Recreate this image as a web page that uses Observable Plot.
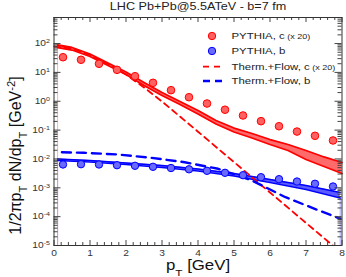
<!DOCTYPE html>
<html><head><meta charset="utf-8">
<script src="https://cdn.jsdelivr.net/npm/d3@7"></script>
<script src="https://cdn.jsdelivr.net/npm/@observablehq/plot@0.6"></script>
<style>
body{margin:0;background:#fff}
svg{font-family:"Liberation Sans",Arial,Helvetica,sans-serif}
</style>
</head><body><div id="chart"></div>
<script>
// ---- data ----
const pythiaX = [0.25,0.75,1.25,1.75,2.25,2.75,3.25,3.75,4.25,4.75,5.25,5.75,6.25,6.75,7.25,7.75];
const pythiaC = [33.6,27.4,19.9,12.3,7.38,4.36,2.42,1.38,0.835,0.509,0.321,0.204,0.136,0.089,0.0634,0.0437];
const pythiaB = [0.00643,0.00657,0.00643,0.00607,0.00579,0.00535,0.00485,0.00438,0.00388,0.00331,0.00273,0.00233,0.00199,0.00165,0.00138,0.00111];

const bandCX  = [0.1,0.5,1,1.5,2,2.5,3,3.5,4,4.5,5,5.5,6,6.5,7,7.5,8];
const bandCHi = [89.1,73.0,43.4,21.2,10.3,4.47,2.01,0.98,0.478,0.215,0.118,0.0762,0.0472,0.0317,0.0196,0.0117,0.00753];
const bandCLo = [73.0,59.7,35.6,17.3,8.45,3.52,1.58,0.771,0.361,0.163,0.0859,0.0532,0.0317,0.0196,0.00957,0.00547,0.00313];

const bandBX  = [0.1,1,2,3,4,5,6,7,7.95];
const bandBHi = [0.00995,0.00883,0.00724,0.00593,0.00449,0.00313,0.00194,0.00120,0.000687];
const bandBLo = [0.00883,0.00783,0.00643,0.00506,0.00382,0.00256,0.00153,0.000873,0.000443];

const thermCX = [0,0.5,1,1.5,2,2.5,3,4,5,6,7,8];
const thermC  = [79.1,67.3,40.1,19.5,8.45,3.0,0.98,0.088,0.00778,6.87e-4,6.07e-5,5.37e-6];

const thermBX = [0.22,0.83,1.77,2.7,3.63,4.56,5.5,6.43,7.36,7.97];
const thermB  = [0.01714,0.01633,0.01426,0.01096,0.00771,0.00456,0.00179,4.72e-4,1.63e-4,8.41e-5];

const xTicks = [0,1,2,3,4,5,6,7,8];
const yTicks = [1e-5,1e-4,1e-3,1e-2,1e-1,1,10,100];

const titleText = "LHC Pb+Pb@5.5ATeV - b=7 fm";
const xLabel = "p_{T} [GeV]";
const yLabel = "1/2\u03c0p_{T} dN/dp_{T} [GeV^{-2}]";
const legendItems = [
  {kind:"dot",  color:"#ff0000", fill:"#ff6060", label:"PYTHIA, c", small:"(x 20)"},
  {kind:"dot",  color:"#0000ff", fill:"#6a6aff", label:"PYTHIA, b", small:""},
  {kind:"dash", color:"#ff0000", label:"Therm.+Flow, c", small:"(x 20)"},
  {kind:"dash", color:"#0000ff", label:"Therm.+Flow, b", small:""}
];

// ---- tables ----
const pyC = pythiaX.map((x,i)=>({x, y:pythiaC[i]}));
const pyB = pythiaX.map((x,i)=>({x, y:pythiaB[i]}));
const bC = bandCX.map((x,i)=>({x, hi:bandCHi[i], lo:bandCLo[i]}));
const bB = bandBX.map((x,i)=>({x, hi:bandBHi[i], lo:bandBLo[i]}));
const tC = thermCX.map((x,i)=>({x, y:thermC[i]}));
const tB = thermBX.map((x,i)=>({x, y:thermB[i]}));

const W=346, H=277, ml=53.5, mr=4.5, mt=17, mb=32;
const fw=W-ml-mr, fh=H-mt-mb;
const minorX = d3.range(1,40).map(i=>i*0.2).filter(v=>Math.abs(v-Math.round(v))>1e-6);
const minorY = [];
for (let e=-5;e<=2;e++) for (let k=2;k<=9;k++){ const v=k*Math.pow(10,e); if (v<=800) minorY.push(v); }

const tickColor = "#444";
const plot = Plot.plot({
  width:W, height:H, marginLeft:ml, marginRight:mr, marginTop:mt, marginBottom:mb,
  style:{fontFamily:'"Liberation Sans",Arial,sans-serif', fontSize:"8.5px", color:"#333", background:"#fff", overflow:"visible"},
  x:{domain:[0,8]},
  y:{type:"log", domain:[1e-5,800]},
  marks:[
    Plot.ruleX([bC[0]], {x:"x", y1:1e-5, y2:"lo", stroke:"#ffb0b0", strokeWidth:1}),
    Plot.ruleX([bB[0]], {x:"x", y1:1e-5, y2:"lo", stroke:"#a8a8ff", strokeWidth:1}),
    Plot.ruleX([bB[bB.length-1]], {x:"x", y1:1e-5, y2:"lo", stroke:"#a8a8ff", strokeWidth:1}),
    Plot.areaY(bC, {x:"x", y1:"lo", y2:"hi", fill:"#ff6a6a"}),
    Plot.line(bC, {x:"x", y:"hi", stroke:"#ff0000", strokeWidth:1.8}),
    Plot.line(bC, {x:"x", y:"lo", stroke:"#ff0000", strokeWidth:1.8}),
    Plot.areaY(bB, {x:"x", y1:"lo", y2:"hi", fill:"#5a5aff"}),
    Plot.line(bB, {x:"x", y:"hi", stroke:"#0000ff", strokeWidth:1.5}),
    Plot.line(bB, {x:"x", y:"lo", stroke:"#0000ff", strokeWidth:1.5}),
    Plot.line(tC, {x:"x", y:"y", stroke:"#ff0000", strokeWidth:1.8, strokeDasharray:"6,4.5", clip:true}),
    Plot.line(tB, {x:"x", y:"y", stroke:"#0000ff", strokeWidth:2.4, strokeDasharray:"9,6", clip:true}),
    Plot.dot(pyC, {x:"x", y:"y", r:3.8, fill:"#ff6060", stroke:"#ff0000", strokeWidth:1}),
    Plot.dot(pyB, {x:"x", y:"y", r:3.7, fill:"#6a6aff", stroke:"#0000ff", strokeWidth:1}),
    Plot.tickX(xTicks, {x:d=>d, insetTop:fh-5, stroke:tickColor}),
    Plot.tickX(minorX, {x:d=>d, insetTop:fh-3, stroke:tickColor}),
    Plot.tickX(xTicks, {x:d=>d, insetBottom:fh-5, stroke:tickColor}),
    Plot.tickX(minorX, {x:d=>d, insetBottom:fh-3, stroke:tickColor}),
    Plot.tickY(yTicks, {y:d=>d, insetRight:fw-7, stroke:tickColor}),
    Plot.tickY(minorY, {y:d=>d, insetRight:fw-4, stroke:tickColor}),
    Plot.tickY(yTicks, {y:d=>d, insetLeft:fw-7, stroke:tickColor}),
    Plot.tickY(minorY, {y:d=>d, insetLeft:fw-4, stroke:tickColor}),
    Plot.frame({stroke:"#333"}),
    Plot.axisX(xTicks, {tickSize:0, tickPadding:4, label:null, tickFormat:d=>String(d), fill:"#333"}),
    Plot.axisY(yTicks, {tickSize:0, tickPadding:4, label:null, tickFormat:d=>"10^{"+Math.round(Math.log10(d))+"}", fill:"#333"}),
    Plot.text([titleText], {frameAnchor:"top", dy:-10.5, lineAnchor:"middle", fontSize:10.5, fill:"#222"}),
    Plot.text([xLabel], {frameAnchor:"bottom", dy:20, lineAnchor:"middle", fontSize:14, fill:"#111"}),
    Plot.text([yLabel], {frameAnchor:"left", dx:-38, dy:24, rotate:-90, textAnchor:"middle", lineAnchor:"middle", fontSize:16, fill:"#111"})
  ]
});
document.getElementById("chart").appendChild(plot);

// ---- legend (inside the frame, top right) ----
const svg = d3.select(plot);
const lg = svg.append("g").attr("font-size", 9.5).attr("fill", "#222").attr("text-anchor", "start");
const rowsY = [36, 51, 66.7, 81];
legendItems.forEach((it, i) => {
  const y = rowsY[i];
  if (it.kind === "dot") {
    lg.append("circle").attr("cx", 212).attr("cy", y).attr("r", 3.7)
      .attr("fill", it.fill).attr("stroke", it.color);
  } else {
    lg.append("line").attr("x1", 203).attr("x2", 222).attr("y1", y).attr("y2", y)
      .attr("stroke", it.color).attr("stroke-width", it.color === "#0000ff" ? 2.4 : 1.8)
      .attr("stroke-dasharray", it.color === "#0000ff" ? "7,5" : "6,5");
  }
  const t = lg.append("text").attr("x", 231.5).attr("y", y).attr("dy", "0.35em").text(it.label);
  if (it.small) t.append("tspan").attr("font-size", 7.5).text(" " + it.small);
});

// ---- rich text: sub/superscripts ----
function rich(el) {
  const s = el.textContent;
  if (!/[_^]\{/.test(s)) return;
  while (el.firstChild) el.removeChild(el.firstChild);
  const re = /([_^])\{([^}]*)\}/g; let last = 0, m;
  const ns = "http://www.w3.org/2000/svg";
  while ((m = re.exec(s))) {
    if (m.index > last) el.appendChild(document.createTextNode(s.slice(last, m.index)));
    const t = document.createElementNS(ns, "tspan");
    t.setAttribute("baseline-shift", m[1] === "^" ? "super" : "sub");
    t.setAttribute("font-size", "70%");
    t.textContent = m[2];
    el.appendChild(t);
    last = re.lastIndex;
  }
  if (last < s.length) el.appendChild(document.createTextNode(s.slice(last)));
}
svg.selectAll("text").each(function(){ rich(this); });

// horizontal stretch of upright texts (the reference is wider than tall)
const K = 1.2;
svg.selectAll("text").each(function(){
  if (this.textContent.indexOf("dN/dp") >= 0) return;
  const L = this.getComputedTextLength();
  if (L > 0) { this.setAttribute("textLength", L*K); this.setAttribute("lengthAdjust", "spacingAndGlyphs"); }
});
</script>
</body></html>
